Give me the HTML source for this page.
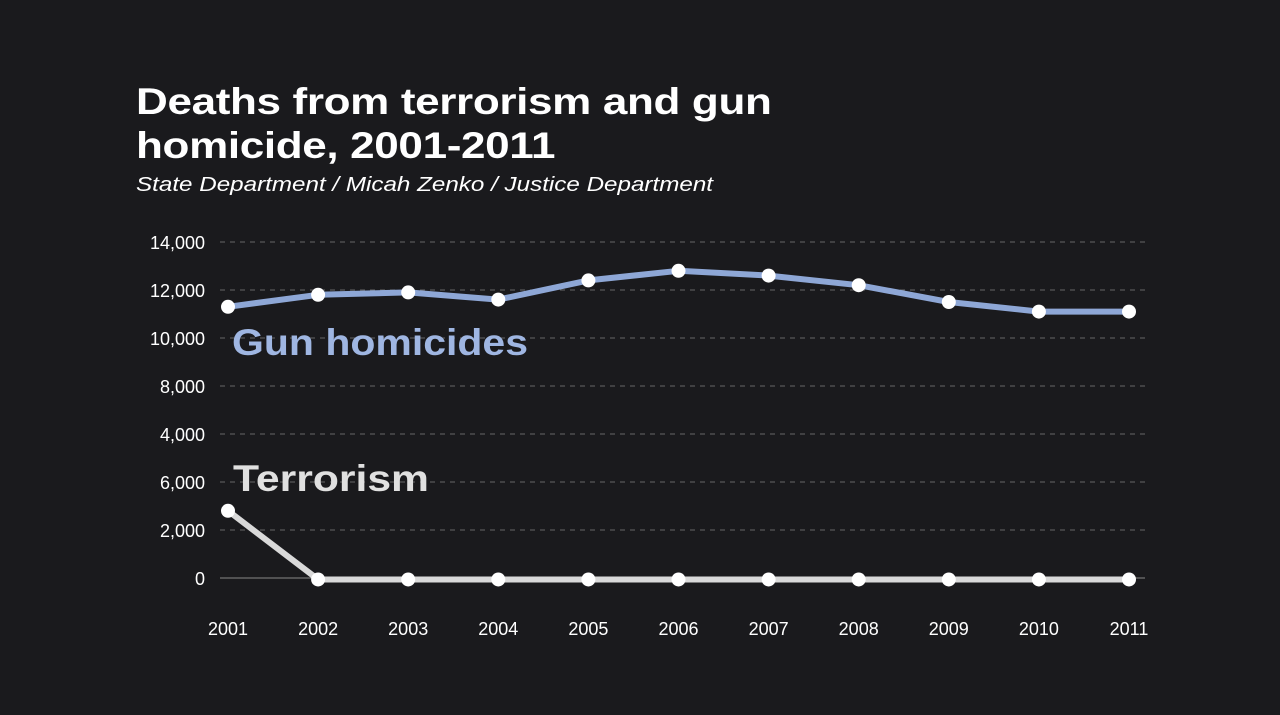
<!DOCTYPE html>
<html><head><meta charset="utf-8"><style>
html,body{margin:0;padding:0;background:#1a1a1d;}
#wrap{position:relative;width:1280px;height:715px;background:#1a1a1d;font-family:"Liberation Sans",sans-serif;overflow:hidden;}
.title{position:absolute;left:136px;top:80px;color:#fff;font-weight:bold;font-size:37px;line-height:44px;letter-spacing:-0.3px;transform:scaleX(1.19);transform-origin:left top;white-space:nowrap;}
.sub{position:absolute;left:136px;top:174px;color:#fff;font-style:italic;font-size:20px;transform:scaleX(1.21);transform-origin:left top;white-space:nowrap;}
</style></head><body>
<div id="wrap">
<div class="title">Deaths from terrorism and gun<br>homicide, 2001-2011</div>
<div class="sub">State Department / Micah Zenko / Justice Department</div>
<svg id="chart" width="1280" height="715" style="position:absolute;left:0;top:0"></svg>
</div>
<script>
const years=["2001","2002","2003","2004","2005","2006","2007","2008","2009","2010","2011"];
const gunHomicides=[11300,11800,11900,11600,12400,12800,12600,12200,11500,11100,11100];
const terrorism=[2800,-60,-60,-60,-60,-60,-60,-60,-60,-60,-60];
const tickLabels=["14,000","12,000","10,000","8,000","4,000","6,000","2,000","0"];
const tickValues=[14000,12000,10000,8000,6000,4000,2000,0];
const NS="http://www.w3.org/2000/svg";
const svg=document.getElementById('chart');
const x=i=>228+i*90.1;
const y=v=>578-v/2000*48;
function mk(t,a){const e=document.createElementNS(NS,t);for(const k in a)e.setAttribute(k,a[k]);svg.appendChild(e);return e;}
tickValues.forEach((v,i)=>{
  const g=mk('line',{x1:220,x2:1145,y1:y(v),y2:y(v),stroke:v===0?'#888':'#666','stroke-width':1,'stroke-dasharray':v===0?'':'5,5'});
  
  
  const t=mk('text',{x:205,y:y(v)+7,'text-anchor':'end',fill:'#fff','font-size':18,'font-family':'Liberation Sans, sans-serif'});
  t.textContent=tickLabels[i];
  
  
});
years.forEach((yr,i)=>{
  const t=mk('text',{x:x(i),y:635,'text-anchor':'middle',fill:'#fff','font-size':18,'font-family':'Liberation Sans, sans-serif'});
  t.textContent=yr;
  
  
});
function series(vals,color,name){
  const p=mk('polyline',{points:vals.map((v,i)=>x(i)+','+y(v)).join(' '),fill:'none',stroke:color,'stroke-width':6,'stroke-linejoin':'round'});
  
  
  vals.forEach((v,i)=>{
    const c=mk('circle',{cx:x(i),cy:y(v),r:7,fill:'#fff'});
    
    
  });
}
series(terrorism,'#d9d9d9','terrorism');
series(gunHomicides,'#8ea7d6','gun-homicides');
const l1=mk('text',{x:232,y:355,fill:'#9fb6e2','font-size':37,'font-weight':'bold','font-family':'Liberation Sans, sans-serif',textLength:296,lengthAdjust:'spacingAndGlyphs'});
l1.textContent='Gun homicides';


const l2=mk('text',{x:233,y:491,fill:'#e0e0e0','font-size':37,'font-weight':'bold','font-family':'Liberation Sans, sans-serif',textLength:196,lengthAdjust:'spacingAndGlyphs'});
l2.textContent='Terrorism';


</script>
</body></html>
